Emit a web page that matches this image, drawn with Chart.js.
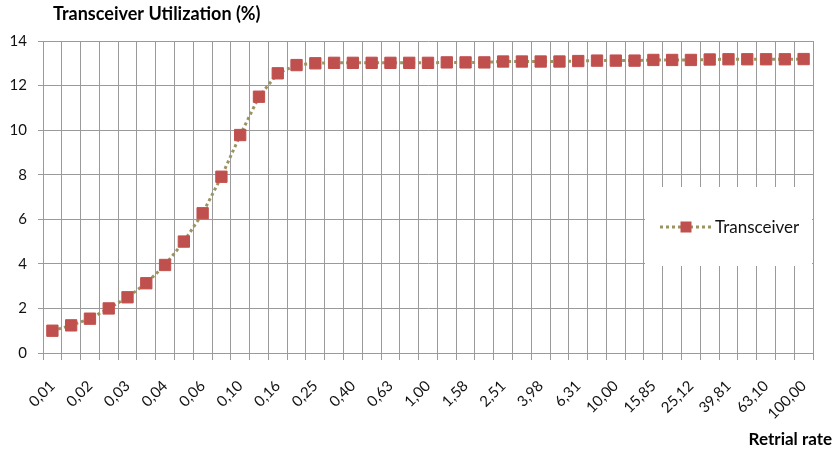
<!DOCTYPE html>
<html lang="en">
<head>
    <meta charset="UTF-8">
    <script src="https://cdn.jsdelivr.net/npm/chart.js"></script>
    <title>Transceiver Utilization</title>
    <style>
        body { margin: 0; background: #fff; }
        .box { position: relative; width: 837px; height: 452px; }
    </style>
</head>
<body>
    <div class="box">
        <canvas id="myChart"></canvas>
    </div>

<script>
    // retrial rate (10 points per decade, 0,01 .. 100,00)
    const rates = [
        "0,01", "0,01", "0,02", "0,02", "0,03", "0,03", "0,04", "0,05", "0,06", "0,08",
        "0,10", "0,13", "0,16", "0,20", "0,25", "0,32", "0,40", "0,50", "0,63", "0,79",
        "1,00", "1,26", "1,58", "2,00", "2,51", "3,16", "3,98", "5,01", "6,31", "7,94",
        "10,00", "12,59", "15,85", "19,95", "25,12", "31,62", "39,81", "50,12", "63,10", "79,43",
        "100,00"
    ];

    const transceiver = [
        1.00, 1.24, 1.54, 2.00, 2.50, 3.13, 3.95, 5.00, 6.27, 7.91,
        9.78, 11.50, 12.55, 12.92, 13.00, 13.02, 13.02, 13.02, 13.02, 13.02,
        13.02, 13.04, 13.04, 13.04, 13.08, 13.08, 13.08, 13.08, 13.10, 13.12,
        13.12, 13.12, 13.15, 13.15, 13.15, 13.17, 13.18, 13.18, 13.18, 13.18,
        13.19
    ];

    const yTicks = [0, 2, 4, 6, 8, 10, 12, 14];

    const fontFam = "Lato, 'Open Sans', sans-serif";
    const gridCol = '#9a9a9a';
    const lineCol = '#9b9461';
    const markCol = '#c0504d';

    // texts + legend box drawn inside the plot area
    const extras = {
        id: 'extras',
        afterDraw(chart) {
            const ctx = chart.ctx;
            const ds = chart.data.datasets[0];
            ctx.save();

            ctx.fillStyle = '#000';
            ctx.font = "bold 18px " + fontFam;
            ctx.textBaseline = 'alphabetic';
            ctx.textAlign = 'left';
            ctx.fillText('Transceiver Utilization (%)', 53, 20);

            ctx.font = "bold 17px " + fontFam;
            ctx.textAlign = 'right';
            ctx.fillText('Retrial rate', 832, 445);

            // legend
            ctx.fillStyle = '#fff';
            ctx.fillRect(645, 187, 167, 79);
            ctx.strokeStyle = ds.borderColor;
            ctx.lineWidth = ds.borderWidth;
            ctx.setLineDash(ds.borderDash);
            ctx.beginPath();
            ctx.moveTo(660, 227);
            ctx.lineTo(712, 227);
            ctx.stroke();
            ctx.setLineDash([]);
            ctx.fillStyle = markCol;
            ctx.fillRect(680.5, 221.5, 11, 11);
            ctx.fillStyle = '#111';
            ctx.font = "17px " + fontFam;
            ctx.textAlign = 'left';
            ctx.textBaseline = 'middle';
            ctx.fillText(ds.label, 715, 228);

            ctx.restore();
        }
    };

    const config = {
        type: 'line',
        data: {
            labels: rates,
            datasets: [{
                label: 'Transceiver',
                data: transceiver,
                borderColor: lineCol,
                borderWidth: 3,
                borderDash: [3, 3],
                tension: 0,
                pointStyle: 'rect',
                pointRadius: 8,
                pointHoverRadius: 8,
                pointBackgroundColor: markCol,
                pointBorderColor: markCol,
                pointBorderWidth: 1
            }]
        },
        options: {
            responsive: true,
            maintainAspectRatio: false,
            animation: false,
            layout: { padding: { top: 41, right: 24, left: 0, bottom: 0 } },
            plugins: {
                legend: { display: false },
                tooltip: { enabled: false }
            },
            scales: {
                x: {
                    offset: true,
                    grid: { offset: true, color: gridCol, lineWidth: 1, tickLength: 7 },
                    border: { color: gridCol },
                    ticks: {
                        autoSkip: false,
                        maxRotation: 45,
                        minRotation: 45,
                        color: '#111',
                        font: { family: fontFam, size: 15 },
                        padding: 17,
                        callback: function (v, i) { return i % 2 === 0 ? rates[i] : ''; }
                    },
                    afterFit: function (s) { s.height = 99; }
                },
                y: {
                    min: 0,
                    max: 14,
                    afterBuildTicks: function (s) { s.ticks = yTicks.map(v => ({ value: v })); },
                    grid: { color: gridCol, lineWidth: 1, tickLength: 5 },
                    border: { color: gridCol },
                    ticks: {
                        color: '#111',
                        font: { family: fontFam, size: 15 },
                        padding: 11
                    },
                    afterFit: function (s) { s.width = 43; }
                }
            }
        },
        plugins: [extras]
    };

    const myChart = new Chart(document.getElementById('myChart'), config);
</script>
</body>
</html>
